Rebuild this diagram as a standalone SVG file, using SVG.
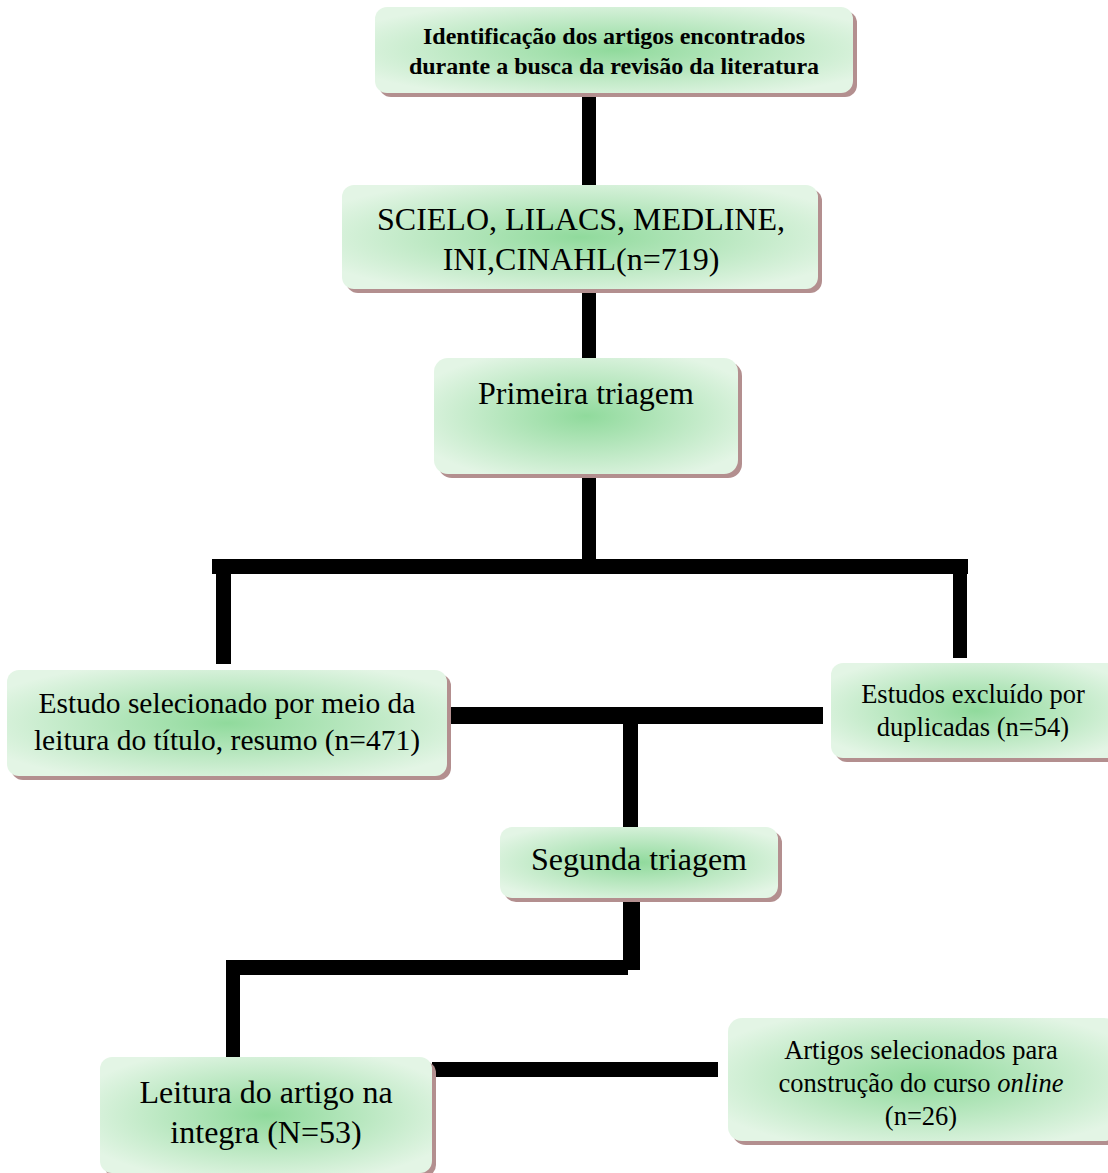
<svg xmlns="http://www.w3.org/2000/svg" width="1108" height="1173" viewBox="0 0 1108 1173">
<defs>
<radialGradient id="g" cx="50%" cy="50%" r="60%">
<stop offset="0" stop-color="#90da9c"/>
<stop offset="1" stop-color="#e3f5e5"/>
</radialGradient>
</defs>
<style>
.sh{fill:#b38f8f}
.bx{fill:url(#g)}
.t{font-family:"Liberation Serif","Times New Roman",serif;fill:#000;text-anchor:middle}
.c{fill:#000}
</style>
<rect x="0" y="0" width="1108" height="1173" fill="#fff"/>
<g id="connectors">
<rect class="c" x="582" y="88" width="14" height="100"/>
<rect class="c" x="582" y="286" width="14" height="75"/>
<rect class="c" x="582" y="470" width="14" height="92"/>
<rect class="c" x="212" y="559" width="756" height="15"/>
<rect class="c" x="216" y="559" width="15" height="105"/>
<rect class="c" x="953" y="559" width="14" height="99"/>
<rect class="c" x="446" y="707" width="377" height="17"/>
<rect class="c" x="623" y="707" width="15" height="122"/>
<rect class="c" x="623" y="895" width="17" height="75"/>
<rect class="c" x="226" y="960" width="402" height="15"/>
<rect class="c" x="226" y="960" width="14" height="99"/>
<rect class="c" x="432" y="1062" width="286" height="15"/>
</g>
<g id="n1">
<rect class="sh" x="379" y="11" width="478" height="86" rx="12"/>
<rect class="bx" x="375" y="7" width="478" height="86" rx="12"/>
<text class="t" x="614" y="44" font-size="24" font-weight="bold">Identificação dos artigos encontrados</text>
<text class="t" x="614" y="74" font-size="24" font-weight="bold">durante a busca da revisão da literatura</text>
</g>
<g id="n2">
<rect class="sh" x="346" y="189" width="476" height="104" rx="12"/>
<rect class="bx" x="342" y="185" width="476" height="104" rx="12"/>
<text class="t" x="581" y="230" font-size="32">SCIELO, LILACS, MEDLINE,</text>
<text class="t" x="581" y="270" font-size="32">INI,CINAHL(n=719)</text>
</g>
<g id="n3">
<rect class="sh" x="438" y="362" width="304" height="116" rx="14"/>
<rect class="bx" x="434" y="358" width="304" height="116" rx="14"/>
<text class="t" x="586" y="404" font-size="32">Primeira triagem</text>
</g>
<g id="n4">
<rect class="sh" x="11" y="674" width="440" height="106" rx="12"/>
<rect class="bx" x="7" y="670" width="440" height="106" rx="12"/>
<text class="t" x="227" y="713" font-size="29.5">Estudo selecionado por meio da</text>
<text class="t" x="227" y="750" font-size="29.5">leitura do título, resumo (n=471)</text>
</g>
<g id="n5">
<rect class="sh" x="835" y="667" width="290" height="95" rx="12"/>
<rect class="bx" x="831" y="663" width="290" height="95" rx="12"/>
<text class="t" x="973" y="703" font-size="26.5">Estudos excluído por</text>
<text class="t" x="973" y="736" font-size="26.5">duplicadas (n=54)</text>
</g>
<g id="n6">
<rect class="sh" x="504" y="831" width="278" height="71" rx="12"/>
<rect class="bx" x="500" y="827" width="278" height="71" rx="12"/>
<text class="t" x="639" y="870" font-size="32">Segunda triagem</text>
</g>
<g id="n7">
<rect class="sh" x="104" y="1061" width="332" height="116" rx="12"/>
<rect class="bx" x="100" y="1057" width="332" height="116" rx="12"/>
<text class="t" x="266" y="1103" font-size="32">Leitura do artigo na</text>
<text class="t" x="266" y="1143" font-size="32">integra (N=53)</text>
</g>
<g id="n8">
<rect class="sh" x="732" y="1022" width="390" height="123" rx="14"/>
<rect class="bx" x="728" y="1018" width="390" height="123" rx="14"/>
<text class="t" x="921" y="1059" font-size="26.5">Artigos selecionados para</text>
<text class="t" x="921" y="1092" font-size="26.5">construção do curso <tspan font-style="italic">online</tspan></text>
<text class="t" x="921" y="1125" font-size="26.5">(n=26)</text>
</g>
</svg>
